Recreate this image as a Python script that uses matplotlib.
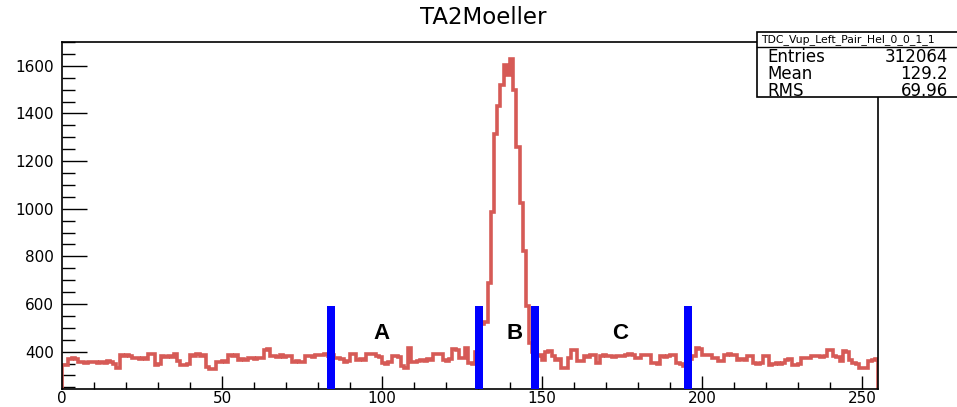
import matplotlib
matplotlib.use('Agg')
import matplotlib.pyplot as plt
import numpy as np
from matplotlib.ticker import MultipleLocator
from matplotlib.patches import Rectangle

# ---- data ----
counts = [
    345, 345, 370, 372, 368, 355, 356, 354, 356, 355,
    357, 353, 356, 352, 360, 356, 350, 330, 385, 383,
    386, 380, 372, 374, 370, 372, 368, 390, 388, 345,
    350, 380, 378, 382, 376, 392, 360, 345, 342, 348,
    385, 382, 388, 380, 384, 335, 328, 325, 358, 355,
    360, 356, 385, 382, 386, 366, 368, 364, 373, 375,
    370, 374, 372, 408, 412, 380, 382, 378, 384, 378,
    382, 380, 358, 360, 356, 358, 380, 382, 376, 384,
    386, 384, 388, 382, 385, 372, 375, 370, 358, 360,
    390, 388, 366, 370, 364, 390, 392, 388, 380, 378,
    352, 350, 355, 380, 382, 378, 340, 330, 415, 358,
    355, 360, 366, 362, 368, 364, 390, 392, 388, 366,
    362, 368, 410, 405, 372, 375, 415, 352, 350, 400,
    420, 514, 525, 690, 985, 1315, 1430, 1520, 1605, 1560,
    1630, 1500, 1258, 1026, 822, 591, 436, 400, 380, 387,
    366, 400, 402, 380, 366, 368, 331, 333, 373, 408,
    406, 359, 360, 380, 378, 384, 386, 352, 383, 384,
    380, 382, 378, 380, 382, 380, 387, 388, 386, 373,
    372, 386, 387, 385, 352, 354, 350, 380, 378, 382,
    387, 386, 352, 350, 338, 345, 370, 380, 415, 412,
    387, 386, 384, 373, 372, 359, 360, 387, 388, 386,
    385, 366, 368, 364, 380, 382, 352, 350, 354, 380,
    382, 345, 348, 352, 350, 354, 366, 368, 345, 343,
    347, 373, 372, 375, 380, 382, 380, 378, 382, 408,
    406, 380, 378, 359, 401, 398, 366, 352, 350, 331,
    330, 333, 359, 366, 368,
]
x_min, x_max = 0, 255
y_min, y_max = 243, 1700
cut_positions = [84.0, 130.3, 147.9, 195.7]
cut_top = 590
region_labels = ['A', 'B', 'C']
region_label_x = [100, 141.5, 174.5]
region_label_y = 478
title = 'TA2Moeller'
hist_name = 'TDC_Vup_Left_Pair_Hel_0_0_1_1'
stats_names = ['Entries', 'Mean', 'RMS']
stats_values = ['312064', '129.2', '69.96']

# ---- figure ----
W, H = 957, 407
fig = plt.figure(figsize=(W / 100, H / 100), dpi=100)
fig.patch.set_facecolor('white')
ax = fig.add_axes([62 / W, 1 - 389 / H, (878 - 62) / W, (389 - 42) / H])

edges = np.arange(len(counts) + 1)
ax.stairs(counts, edges, color='#d65a56', linewidth=2.6, zorder=2)
ax.bar(cut_positions, [cut_top - y_min] * len(cut_positions), bottom=y_min,
       width=2.6, color='#0000ff', zorder=3)

for lab, lx in zip(region_labels, region_label_x):
    ax.text(lx, region_label_y, lab, ha='center', va='center',
            fontsize=16, fontweight='bold', family='Liberation Sans', zorder=4)

ax.set_xlim(x_min, x_max)
ax.set_ylim(y_min, y_max)
ax.xaxis.set_major_locator(MultipleLocator(50))
ax.xaxis.set_minor_locator(MultipleLocator(10))
ax.yaxis.set_major_locator(MultipleLocator(200))
ax.yaxis.set_minor_locator(MultipleLocator(50))
ax.set_yticks([400, 600, 800, 1000, 1200, 1400, 1600])

ax.tick_params(axis='both', which='both', direction='in', top=False, right=False,
               labelsize=11, colors='black', width=1.0)
ax.tick_params(axis='y', which='major', length=18, pad=6)
ax.tick_params(axis='y', which='minor', length=9)
ax.tick_params(axis='x', which='major', length=9.5, pad=1.5)
ax.tick_params(axis='x', which='minor', length=4.7)
for sp in ax.spines.values():
    sp.set_linewidth(1.2)

fig.text(483 / W, 1 - 17 / H, title, ha='center', va='center', fontsize=16.5)

# ---- stats box ----
bx0, by_top, by_bot = 757, 32, 97
fig.add_artist(Rectangle((bx0 / W, 1 - by_bot / H), (W + 5 - bx0) / W, (by_bot - by_top) / H,
                         transform=fig.transFigure, facecolor='white', edgecolor='black',
                         linewidth=1.2, zorder=10, clip_on=False))
fig.add_artist(plt.Line2D([bx0 / W, 1.0], [1 - 47 / H, 1 - 47 / H],
                          transform=fig.transFigure, color='black', linewidth=1.0, zorder=11))
fig.text(761 / W, 1 - 39.5 / H, hist_name, ha='left', va='center', fontsize=7.8, zorder=12)
row_y = [57, 74, 91]
for nm, val, ry in zip(stats_names, stats_values, row_y):
    fig.text(767 / W, 1 - ry / H, nm, ha='left', va='center', fontsize=12, zorder=12)
    fig.text(948 / W, 1 - ry / H, val, ha='right', va='center', fontsize=12, zorder=12)

fig.savefig('out.png', dpi=100)
